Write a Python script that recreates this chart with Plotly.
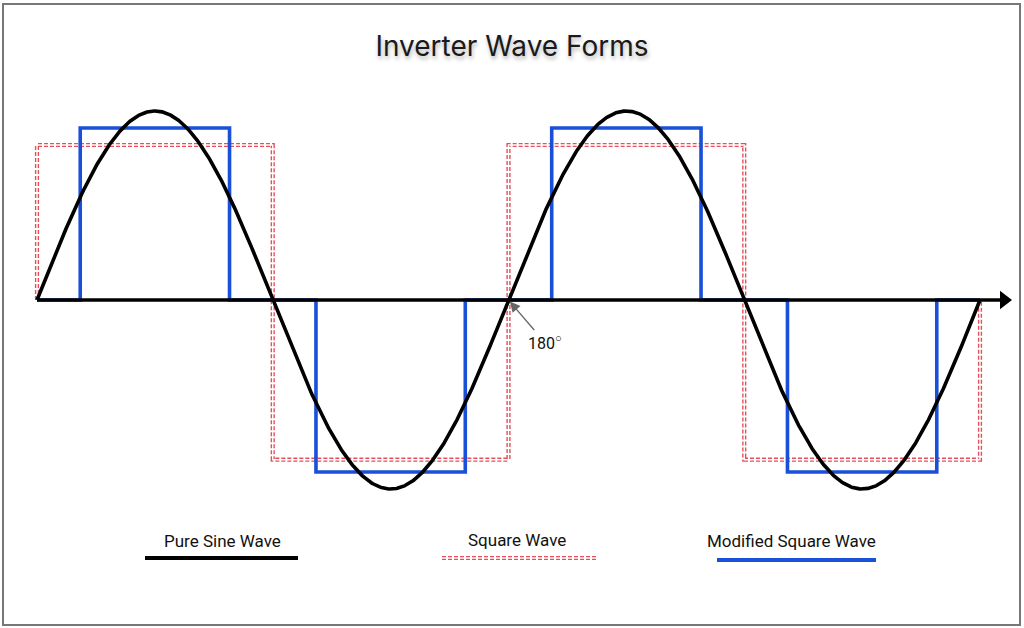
import numpy as np
import plotly.graph_objects as go

# ---- data ----
title_text = "Inverter Wave Forms"
series_names = ["Pure Sine Wave", "Square Wave", "Modified Square Wave"]
series_colors = ["#000000", "#e4505a", "#1a4fd8"]

# pure sine: amplitude (relative units)
sine_amplitude = 1.0
sine_degrees = np.linspace(0, 720, 1441)

# square wave corner points (degrees, level)
square_deg = [0, 0, 180, 180, 360, 360, 540, 540, 720, 720]
square_lvl = [0, 0.82, 0.82, -0.845, -0.845, 0.82, 0.82, -0.845, -0.845, 0]

# modified square wave corner points (degrees, level)
mod_deg = [0, 33, 33, 147, 147, 213, 213, 327, 327, 393, 393, 507, 507, 573, 573, 687, 687, 720]
mod_lvl = [0, 0, 0.91, 0.91, 0, 0, -0.91, -0.91, 0, 0, 0.91, 0.91, 0, 0, -0.91, -0.91, 0, 0]

marker_deg = 360
marker_label = "180<sup>○</sup>"

# ---- figure geometry ----
W, H = 1024, 628
X0PX, X1PX = 37, 980
PX_PER_DEG = (X1PX - X0PX) / 720
Y0PX, PX_PER_UNIT = 300, 189

def px(x):
    return x / W

def py(y):
    return 1 - y / H

fig = go.Figure()

# square wave: thick dashed red with white core -> double dashed look
fig.add_trace(go.Scatter(x=square_deg, y=square_lvl, mode="lines",
                         line=dict(color=series_colors[1], width=4.2, dash="4px,2px"),
                         hoverinfo="skip", showlegend=False))
fig.add_trace(go.Scatter(x=square_deg, y=square_lvl, mode="lines",
                         line=dict(color="white", width=1.4),
                         hoverinfo="skip", showlegend=False))
# modified square wave
fig.add_trace(go.Scatter(x=mod_deg, y=mod_lvl, mode="lines",
                         line=dict(color=series_colors[2], width=3.6),
                         hoverinfo="skip", showlegend=False))
# pure sine wave
fig.add_trace(go.Scatter(x=sine_degrees,
                         y=sine_amplitude * np.sin(np.radians(sine_degrees)),
                         mode="lines", line=dict(color=series_colors[0], width=3.6),
                         hoverinfo="skip", showlegend=False))

# horizontal axis with arrow head
axis_end = (1000 - X0PX) / PX_PER_DEG
head_pos = (1004 - X0PX) / PX_PER_DEG
fig.add_trace(go.Scatter(x=[0, axis_end], y=[0, 0], mode="lines",
                         line=dict(color="#000000", width=3.6),
                         hoverinfo="skip", showlegend=False))
fig.add_trace(go.Scatter(x=[head_pos], y=[0], mode="markers",
                         marker=dict(symbol="triangle-right", size=16, color="#000000",
                                     line=dict(width=0)),
                         hoverinfo="skip", showlegend=False))

x_range = [-X0PX / PX_PER_DEG, (W - X0PX) / PX_PER_DEG]
y_range = [-(H - Y0PX) / PX_PER_UNIT, Y0PX / PX_PER_UNIT]

annotations = [
    # 180 degree marker with pointer
    dict(x=marker_deg, y=0, xref="x", yref="y", text=marker_label,
         showarrow=True, ax=36, ay=42, arrowhead=2, arrowsize=1.6,
         arrowwidth=1.3, arrowcolor="#666666", standoff=2,
         font=dict(family="Roboto", size=16, color="#111111")),
]

# legend labels
leg_text_pos = [(222, 541), (517, 540), (791, 541)]
leg_line_pos = [(145, 298, 558), (442, 597, 558), (717, 876, 560)]
for name, (tx, ty) in zip(series_names, leg_text_pos):
    annotations.append(dict(x=px(tx), y=py(ty), xref="paper", yref="paper",
                            text=name, showarrow=False, xanchor="center",
                            yanchor="middle",
                            font=dict(family="Roboto", size=17, color="#111111")))

shapes = []
# legend samples
(a0, a1, ay0), (b0, b1, by0), (c0, c1, cy0) = leg_line_pos
shapes.append(dict(type="line", xref="paper", yref="paper", x0=px(a0), x1=px(a1),
                   y0=py(ay0), y1=py(ay0), line=dict(color=series_colors[0], width=4)))
shapes.append(dict(type="line", xref="paper", yref="paper", x0=px(b0), x1=px(b1),
                   y0=py(by0), y1=py(by0),
                   line=dict(color=series_colors[1], width=4.2, dash="4px,2px")))
shapes.append(dict(type="line", xref="paper", yref="paper", x0=px(b0), x1=px(b1),
                   y0=py(by0), y1=py(by0), line=dict(color="white", width=1.4)))
shapes.append(dict(type="line", xref="paper", yref="paper", x0=px(c0), x1=px(c1),
                   y0=py(cy0), y1=py(cy0), line=dict(color=series_colors[2], width=4)))
# outer border
shapes.append(dict(type="rect", xref="paper", yref="paper", x0=px(3), x1=px(1020),
                   y0=py(625), y1=py(4), line=dict(color="#777777", width=2)))

fig.update_layout(
    width=W, height=H, autosize=False,
    margin=dict(l=0, r=0, t=0, b=0),
    paper_bgcolor="white", plot_bgcolor="white",
    title=dict(text=title_text, x=0.5, xanchor="center", xref="paper",
               y=py(46), yanchor="middle", yref="paper",
               font=dict(family="Inter", size=28, color="#1a1a1a",
                         shadow="1px 3px 4px rgba(0,0,0,0.3)")),
    xaxis=dict(range=x_range, visible=False, fixedrange=True),
    yaxis=dict(range=y_range, visible=False, fixedrange=True),
    annotations=annotations,
    shapes=shapes,
    showlegend=False,
)

fig.write_html("out.html", config={"displayModeBar": False},
               post_script="document.body.style.margin='0px';document.body.style.padding='0px';")
